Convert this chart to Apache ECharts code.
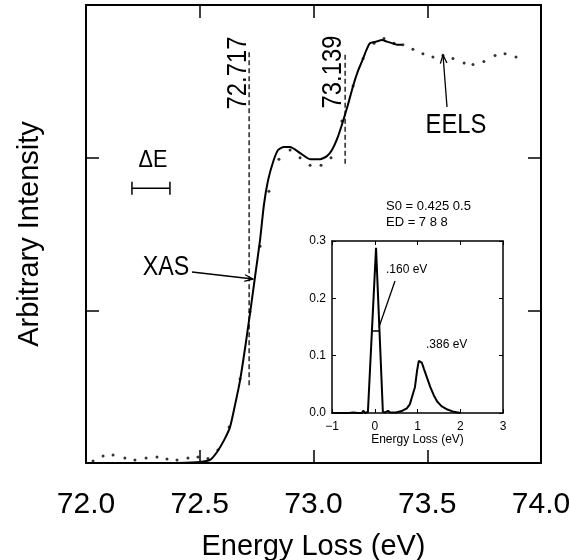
<!DOCTYPE html>
<html lang="en">
<head>
<meta charset="UTF-8">
<title>XAS / EELS edge</title>
<script src="https://cdn.jsdelivr.net/npm/echarts@6/dist/echarts.min.js"></script>
<style>
    html, body { margin: 0; background: #fff; }
    #chart { width: 570px; height: 560px; }
</style>
</head>
<body>
<div id="chart"></div>
<script>
// main panel: XAS (solid line) and EELS (dots)
var xasEnergy = [72.40, 72.50, 72.545, 72.576, 72.607, 72.633, 72.655, 72.677, 72.699, 72.721, 72.743, 72.765, 72.782, 72.800, 72.822, 72.844, 72.870, 72.897, 72.941, 72.985, 73.029, 73.059, 73.081, 73.108, 73.130, 73.152, 73.174, 73.196, 73.213, 73.231, 73.248, 73.275, 73.301, 73.323, 73.345, 73.367, 73.389];
var xasIntensity = [0, 0.007, 0.02, 0.072, 0.15, 0.235, 0.38, 0.54, 0.75, 0.98, 1.22, 1.46, 1.69, 1.85, 1.97, 2.05, 2.07, 2.07, 2.03, 1.99, 1.99, 2.01, 2.05, 2.14, 2.24, 2.35, 2.47, 2.57, 2.63, 2.70, 2.75, 2.76, 2.77, 2.76, 2.75, 2.74, 2.74];

var eelsEnergy = [72.031, 72.075, 72.119, 72.171, 72.215, 72.264, 72.312, 72.356, 72.400, 72.448, 72.492, 72.536, 72.580, 72.629, 72.677, 72.721, 72.765, 72.804, 72.848, 72.897, 72.941, 72.985, 73.033, 73.077, 73.125, 73.174, 73.218, 73.266, 73.310, 73.354, 73.393, 73.437, 73.481, 73.525, 73.569, 73.613, 73.662, 73.701, 73.749, 73.798, 73.842, 73.890];
var eelsIntensity = [0.013, 0.046, 0.052, 0.033, 0.020, 0.033, 0.039, 0.026, 0.020, 0.033, 0.039, 0.030, 0.085, 0.235, 0.55, 0.99, 1.42, 1.78, 1.99, 2.05, 2.00, 1.95, 1.95, 2.00, 2.24, 2.47, 2.65, 2.75, 2.78, 2.75, 2.74, 2.71, 2.68, 2.66, 2.67, 2.65, 2.62, 2.61, 2.63, 2.67, 2.68, 2.66];

// fitted edge positions (dashed markers)
var markerEnergy = [72.717, 73.139];
var markerTop = [2.69, 2.69];
var markerBottom = [0.51, 1.96];

// resolution bar (delta E)
var resolutionEnergy = [72.202, 72.369];
var resolutionLevel = 1.80;

// inset: loss function
var lossEnergy = [-1.0, -0.6, -0.5, -0.46, -0.4, -0.3, -0.27, -0.23, -0.16, 0.03, 0.19, 0.25, 0.31, 0.36, 0.5, 0.65, 0.75, 0.82, 0.88, 0.94, 0.99, 1.03, 1.06, 1.1, 1.15, 1.22, 1.3, 1.38, 1.46, 1.56, 1.7, 1.85, 2.0];
var lossIntensity = [0, 0, 0.001, 0.003, 0, 0, 0.004, 0, 0.002, 0.288, 0.002, 0.001, 0.004, 0.001, 0.001, 0.004, 0.008, 0.015, 0.03, 0.045, 0.074, 0.091, 0.094, 0.088, 0.077, 0.062, 0.045, 0.031, 0.02, 0.012, 0.006, 0.002, 0];
var fwhmEnergy = [-0.05, 0.11];
var fwhmLevel = 0.143;

var font = "'Liberation Sans', Arial, sans-serif";

function pairs(xs, ys) {
    return xs.map(function (x, i) { return [x, ys[i]]; });
}

var lineStyle = { color: '#000', width: 2 };
var edge = { onZero: false, lineStyle: { color: '#000', width: 2 } };

function mainX(pos, labels) {
    return {
        gridIndex: 0, type: 'value', position: pos, min: 72, max: 74, interval: 0.5,
        axisLine: edge,
        axisTick: { inside: true, length: 13, lineStyle: { color: '#000', width: 1.5 } },
        axisLabel: {
            show: labels, margin: 27, color: '#000', fontFamily: font, fontSize: 30,
            formatter: function (v) { return v.toFixed(1); }
        },
        splitLine: { show: false }
    };
}
function mainY(pos) {
    return {
        gridIndex: 0, type: 'value', position: pos, min: 0, max: 3, interval: 1,
        axisLine: edge,
        axisTick: { inside: true, length: 13, lineStyle: { color: '#000', width: 1.5 } },
        axisLabel: { show: false },
        splitLine: { show: false }
    };
}
function insetX(pos, labels) {
    return {
        gridIndex: 1, type: 'value', position: pos, min: -1, max: 3, interval: 1,
        axisLine: { onZero: false, lineStyle: { color: '#000', width: 1.5 } },
        axisTick: { inside: true, length: 4, lineStyle: { color: '#000', width: 1 } },
        axisLabel: {
            show: labels, margin: 8, color: '#000', fontFamily: font, fontSize: 12,
            formatter: function (v) { return v < 0 ? '\u2212' + Math.abs(v) : String(v); }
        },
        splitLine: { show: false }
    };
}
function insetY(pos, labels) {
    return {
        gridIndex: 1, type: 'value', position: pos, min: 0, max: 0.3, interval: 0.1,
        axisLine: { onZero: false, lineStyle: { color: '#000', width: 1.5 } },
        axisTick: { inside: true, length: 4, lineStyle: { color: '#000', width: 1 } },
        axisLabel: {
            show: labels, margin: 6, color: '#000', fontFamily: font, fontSize: 12,
            formatter: function (v) { return v.toFixed(1); }
        },
        splitLine: { show: false }
    };
}

function arrow(x1, y1, x2, y2) {
    var a = Math.atan2(y2 - y1, x2 - x1), L = 9, s = 0.38;
    var st = { stroke: '#000', lineWidth: 1.3, fill: null };
    return [
        { type: 'line', shape: { x1: x1, y1: y1, x2: x2, y2: y2 }, style: st },
        { type: 'polyline', shape: { points: [
            [x2 - L * Math.cos(a - s), y2 - L * Math.sin(a - s)], [x2, y2],
            [x2 - L * Math.cos(a + s), y2 - L * Math.sin(a + s)]] }, style: st }
    ];
}
// narrow-looking annotation text: squeeze along the text direction
function label(text, x, y, size, opts) {
    opts = opts || {};
    return {
        type: 'text', x: x, y: y, rotation: opts.rot || 0, scaleX: opts.sx || 1,
        style: {
            text: text, fill: '#000', fontFamily: font, fontSize: size,
            align: opts.align || 'center', verticalAlign: 'middle'
        }
    };
}

var chart = echarts.init(document.getElementById('chart'));

var markerSeries = markerEnergy.map(function (e, i) {
    return {
        type: 'line', xAxisIndex: 0, yAxisIndex: 0, symbol: 'none', silent: true,
        data: [[e, markerBottom[i]], [e, markerTop[i]]],
        lineStyle: { color: '#000', width: 1.3, type: [5, 3] }
    };
});

var graphics = [
    label('72.717', 238, 73, 28, { rot: Math.PI / 2, sx: 0.85 }),
    label('73.139', 333, 72, 28, { rot: Math.PI / 2, sx: 0.85 }),
    label('\u0394E', 153, 160, 24, { sx: 0.9 }),
    label('XAS', 166, 268, 27, { sx: 0.86 }),
    label('EELS', 456, 126, 27, { sx: 0.88 }),
    label('S0 = 0.425 0.5', 386, 206, 13, { align: 'left' }),
    label('ED = 7 8 8', 386, 222, 13, { align: 'left' }),
    label('.160 eV', 386, 270, 12, { align: 'left' }),
    label('.386 eV', 426, 345, 12, { align: 'left' }),
    { type: 'line', shape: { x1: 395, y1: 281, x2: 379, y2: 327 }, style: { stroke: '#000', lineWidth: 1.3 } }
].concat(arrow(192, 272, 253, 279), arrow(447, 107, 443, 55));

chart.setOption({
    animation: false,
    backgroundColor: '#fff',
    grid: [
        { left: 86, top: 5, width: 455, height: 458, outerBoundsMode: 'none' },
        { left: 332, top: 241, width: 171, height: 172, outerBoundsMode: 'none' }
    ],
    xAxis: [
        Object.assign(mainX('bottom', true), {
            name: 'Energy Loss (eV)', nameLocation: 'middle', nameGap: 69,
            nameTextStyle: { color: '#000', fontFamily: font, fontSize: 29 }
        }),
        mainX('top', false),
        Object.assign(insetX('bottom', true), {
            name: 'Energy Loss (eV)', nameLocation: 'middle', nameGap: 17,
            nameTextStyle: { color: '#000', fontFamily: font, fontSize: 12 }
        }),
        insetX('top', false)
    ],
    yAxis: [
        Object.assign(mainY('left'), {
            name: 'Arbitrary Intensity', nameLocation: 'middle', nameGap: 42, nameRotate: 90,
            nameTextStyle: { color: '#000', fontFamily: font, fontSize: 29 }
        }),
        mainY('right'),
        insetY('left', true),
        insetY('right', false)
    ],
    series: [
        {
            name: 'EELS', type: 'scatter', xAxisIndex: 0, yAxisIndex: 0,
            data: pairs(eelsEnergy, eelsIntensity), symbolSize: 3,
            itemStyle: { color: '#000' }
        },
        {
            name: 'XAS', type: 'line', xAxisIndex: 0, yAxisIndex: 0, symbol: 'none',
            smooth: 0.2, data: pairs(xasEnergy, xasIntensity), lineStyle: lineStyle
        },
        {
            name: 'resolution', type: 'line', xAxisIndex: 0, yAxisIndex: 0,
            data: resolutionEnergy.map(function (e) { return [e, resolutionLevel]; }),
            symbol: 'rect', symbolSize: [1.5, 13], itemStyle: { color: '#000' },
            lineStyle: { color: '#000', width: 1.5 }
        },
        {
            name: 'loss', type: 'line', xAxisIndex: 2, yAxisIndex: 2, symbol: 'none',
            data: pairs(lossEnergy, lossIntensity), lineStyle: lineStyle
        },
        {
            name: 'fwhm', type: 'line', xAxisIndex: 2, yAxisIndex: 2, symbol: 'none',
            data: fwhmEnergy.map(function (e) { return [e, fwhmLevel]; }),
            lineStyle: { color: '#000', width: 1.5 }
        }
    ].concat(markerSeries),
    graphic: graphics
});
</script>
</body>
</html>
